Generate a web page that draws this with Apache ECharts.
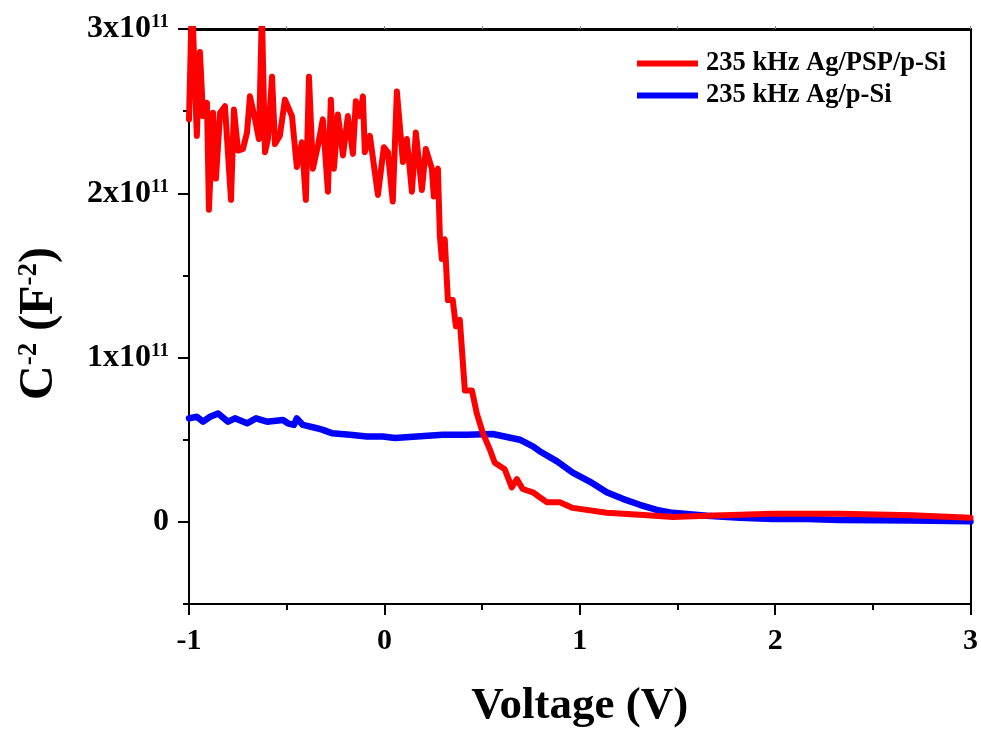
<!DOCTYPE html>
<html>
<head>
<meta charset="utf-8">
<script src="https://cdn.jsdelivr.net/npm/echarts@6/dist/echarts.min.js"></script>
<style>
  html, body { margin: 0; padding: 0; background: #ffffff; }
  #chart { width: 981px; height: 734px; }
</style>
</head>
<body>
<div id="chart"></div>
<script>
// C^-2 versus bias voltage, values of C^-2 in units of 1e11 F^-2
const seriesNames = ['235 kHz Ag/PSP/p-Si', '235 kHz Ag/p-Si'];

const pspVoltage = [
  -1.000, -0.985, -0.960, -0.944, -0.928, -0.908, -0.898, -0.877, -0.862, -0.841,
  -0.816, -0.785, -0.770, -0.749, -0.724, -0.703, -0.688, -0.662, -0.642, -0.627,
  -0.611, -0.596, -0.575, -0.560, -0.535, -0.509, -0.473, -0.448, -0.422, -0.402,
  -0.386, -0.366, -0.340, -0.315, -0.289, -0.274, -0.258, -0.238, -0.212, -0.187,
  -0.161, -0.146, -0.125, -0.110, -0.100, -0.074, -0.033, -0.003, 0.018, 0.043,
  0.064, 0.095, 0.115, 0.141, 0.161, 0.192, 0.212, 0.243, 0.253, 0.274,
  0.284, 0.294, 0.309, 0.325, 0.350, 0.366, 0.386, 0.412, 0.448, 0.473,
  0.504, 0.540, 0.565, 0.616, 0.652, 0.678, 0.708, 0.760, 0.795, 0.831,
  0.898, 0.964, 1.138, 1.307, 1.476, 1.650, 1.987, 2.330, 2.700, 3.000
];
const pspC2 = [
  2.45, 3.20, 2.35, 2.86, 2.47, 2.55, 1.90, 2.49, 2.09, 2.49,
  2.53, 1.96, 2.51, 2.26, 2.27, 2.37, 2.59, 2.45, 2.33, 3.10,
  2.25, 2.33, 2.71, 2.30, 2.35, 2.57, 2.47, 2.16, 2.31, 1.96,
  2.71, 2.15, 2.29, 2.45, 2.01, 2.57, 2.15, 2.48, 2.23, 2.47,
  2.24, 2.56, 2.47, 2.59, 2.25, 2.35, 1.99, 2.28, 2.25, 1.95,
  2.62, 2.19, 2.33, 2.01, 2.37, 2.02, 2.27, 2.15, 1.98, 2.15,
  1.74, 1.60, 1.72, 1.35, 1.35, 1.19, 1.23, 0.80, 0.80, 0.66,
  0.54, 0.44, 0.36, 0.32, 0.21, 0.26, 0.20, 0.18, 0.15, 0.12,
  0.12, 0.085, 0.055, 0.043, 0.030, 0.037, 0.049, 0.049, 0.040, 0.025
];

const siVoltage = [
  -1.000, -0.960, -0.928, -0.892, -0.851, -0.800, -0.765, -0.703, -0.657, -0.601,
  -0.519, -0.494, -0.463, -0.448, -0.417, -0.345, -0.315, -0.269, -0.176, -0.090,
  -0.008, 0.054, 0.166, 0.299, 0.420, 0.555, 0.693, 0.760, 0.795, 0.882,
  0.964, 1.051, 1.138, 1.220, 1.307, 1.394, 1.476, 1.650, 1.818, 1.987,
  2.161, 2.330, 2.700, 3.000
];
const siC2 = [
  0.63, 0.64, 0.61, 0.64, 0.66, 0.61, 0.63, 0.60, 0.63, 0.61,
  0.62, 0.60, 0.59, 0.63, 0.59, 0.57, 0.56, 0.54, 0.53, 0.52,
  0.52, 0.51, 0.52, 0.53, 0.53, 0.535, 0.50, 0.46, 0.43, 0.37,
  0.30, 0.245, 0.18, 0.14, 0.104, 0.073, 0.055, 0.037, 0.025, 0.018,
  0.018, 0.012, 0.008, 0.003
];

const xMajorTicks = [-1, 0, 1, 2, 3];
const yMajorTicks = [0, 1, 2, 3];

const FONT = "'Liberation Serif', 'Times New Roman', serif";
const pair = (xs, ys) => xs.map((x, i) => [x, ys[i]]);
const isWhole = v => Math.abs(v - Math.round(v)) < 1e-6;

const chart = echarts.init(document.getElementById('chart'));

const xBase = { type: 'value', min: -1, max: 3, interval: 0.5, splitLine: { show: false } };
const yBase = { type: 'value', min: -0.5, max: 3, interval: 0.5, splitLine: { show: false } };

chart.setOption({
  animation: false,
  backgroundColor: '#ffffff',
  grid: { left: 189, right: 10, top: 29, bottom: 129, containLabel: false },
  legend: {
    orient: 'vertical',
    left: 632,
    top: 45,
    itemWidth: 61,
    itemHeight: 6,
    itemGap: 5,
    icon: 'rect',
    textStyle: {
      fontFamily: FONT, fontWeight: 'bold', fontSize: 26.5, color: '#000',
      lineHeight: 26, padding: [0, 0, 0, 3]
    },
    data: seriesNames
  },
  xAxis: [
    Object.assign({}, xBase, {
      position: 'bottom',
      name: 'Voltage (V)',
      nameLocation: 'middle',
      nameGap: 80,
      nameTextStyle: { fontFamily: FONT, fontWeight: 'bold', fontSize: 45, color: '#000' },
      axisLine: { show: true, onZero: false, lineStyle: { color: '#000', width: 2 } },
      axisTick: { show: true, inside: false, length: 6, lineStyle: { color: '#000', width: 2 } },
      axisLabel: {
        margin: 22,
        fontFamily: FONT, fontWeight: 'bold', fontSize: 30, color: '#000',
        formatter: v => (isWhole(v) ? String(Math.round(v)) : '')
      }
    }),
    Object.assign({}, xBase, {
      position: 'bottom',
      axisLine: { show: false, onZero: false },
      axisTick: { show: true, inside: false, length: 11, customValues: xMajorTicks, lineStyle: { color: '#000', width: 2 } },
      axisLabel: { show: false }
    }),
    Object.assign({}, xBase, {
      position: 'top',
      axisLine: { show: true, onZero: false, lineStyle: { color: '#000', width: 3 } },
      axisTick: { show: true, inside: false, length: 3, lineStyle: { color: '#888', width: 1 } },
      axisLabel: { show: false }
    })
  ],
  yAxis: [
    Object.assign({}, yBase, {
      position: 'left',
      name: '{m|C}{s|-2}{m| (F}{s|-2}{m|)}',
      nameLocation: 'middle',
      nameRotate: 90,
      nameGap: 125,
      nameTextStyle: {
        fontFamily: FONT, fontWeight: 'bold', color: '#000',
        padding: [0, 14, 0, 0],
        rich: {
          m: { fontFamily: FONT, fontWeight: 'bold', fontSize: 48, color: '#000' },
          s: { fontFamily: FONT, fontWeight: 'bold', fontSize: 27, color: '#000', verticalAlign: 'top' }
        }
      },
      axisLine: { show: true, onZero: false, lineStyle: { color: '#000', width: 2 } },
      axisTick: { show: true, inside: false, length: 6, lineStyle: { color: '#000', width: 2 } },
      axisLabel: {
        margin: 20,
        formatter: v => {
          if (!isWhole(v)) return '';
          const n = Math.round(v);
          return n === 0 ? '{m|0}' : '{m|' + n + 'x10}{s|11}';
        },
        rich: {
          m: { fontFamily: FONT, fontWeight: 'bold', fontSize: 32, color: '#000' },
          s: { fontFamily: FONT, fontWeight: 'bold', fontSize: 19, color: '#000', verticalAlign: 'top' }
        }
      }
    }),
    Object.assign({}, yBase, {
      position: 'left',
      axisLine: { show: false, onZero: false },
      axisTick: { show: true, inside: false, length: 11, customValues: yMajorTicks, lineStyle: { color: '#000', width: 2 } },
      axisLabel: { show: false }
    }),
    Object.assign({}, yBase, {
      position: 'right',
      axisLine: { show: true, onZero: false, lineStyle: { color: '#000', width: 2 } },
      axisTick: { show: false },
      axisLabel: { show: false }
    })
  ],
  series: [
    {
      name: seriesNames[0],
      type: 'line',
      xAxisIndex: 0,
      yAxisIndex: 0,
      data: pair(pspVoltage, pspC2),
      showSymbol: false,
      symbol: 'none',
      clip: true,
      z: 3,
      itemStyle: { color: '#ff0000' },
      lineStyle: { color: '#ff0000', width: 6, join: 'round', cap: 'round' }
    },
    {
      name: seriesNames[1],
      type: 'line',
      xAxisIndex: 0,
      yAxisIndex: 0,
      data: pair(siVoltage, siC2),
      showSymbol: false,
      symbol: 'none',
      clip: true,
      z: 2,
      itemStyle: { color: '#0000ff' },
      lineStyle: { color: '#0000ff', width: 6.5, join: 'round', cap: 'round' }
    }
  ]
});
</script>
</body>
</html>
